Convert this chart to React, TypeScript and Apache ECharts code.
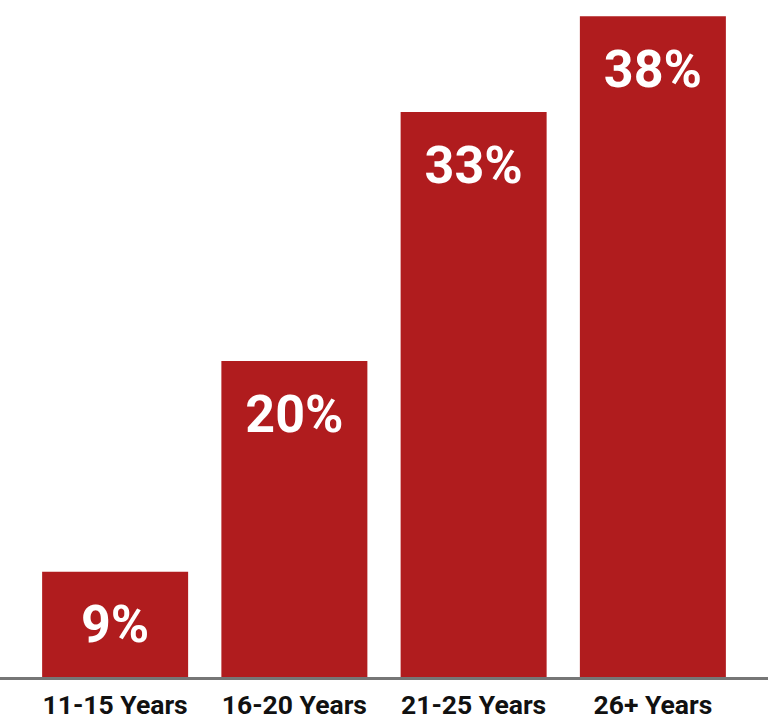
import React, { useEffect, useRef } from "react";
import * as echarts from "echarts";

const categories = ["11-15 Years", "16-20 Years", "21-25 Years", "26+ Years"];
const values = [9, 20, 33, 38];

export default function App() {
  const ref = useRef<HTMLDivElement>(null);
  useEffect(() => {
    const chart = echarts.init(ref.current!, null, { renderer: "svg" });
    chart.setOption({
      animation: false,
      grid: { left: 25.5, right: 25.5, top: 0, bottom: 44, containLabel: false },
      xAxis: {
        type: "category",
        data: categories,
        axisLine: { show: false },
        axisTick: { show: false },
        axisLabel: {
          interval: 0,
          hideOverlap: false,
          color: "#111",
          fontFamily: "Roboto",
          fontWeight: "bold",
          fontSize: 26.5,
          margin: 14,
        },
      },
      yAxis: {
        type: "value",
        min: 3.5,
        max: 38.85,
        show: false,
        splitLine: { show: false },
      },
      graphic: [
        {
          type: "rect",
          left: 0,
          top: 677,
          shape: { width: 768, height: 3 },
          style: { fill: "#767676" },
          z: 10,
        },
      ],
      series: [
        {
          type: "bar",
          data: values,
          barWidth: 146,
          itemStyle: { color: "#b01c1e" },
          label: {
            show: true,
            position: "insideTop",
            distance: 27,
            formatter: "{c}%",
            color: "#fff",
            fontFamily: "Roboto",
            fontWeight: "bold",
            fontSize: 52,
          },
        },
      ],
    });
    return () => chart.dispose();
  }, []);
  return (
    <div
      ref={ref}
      style={{ width: 768, height: 721, position: "absolute", left: 0, top: 0 }}
    />
  );
}
